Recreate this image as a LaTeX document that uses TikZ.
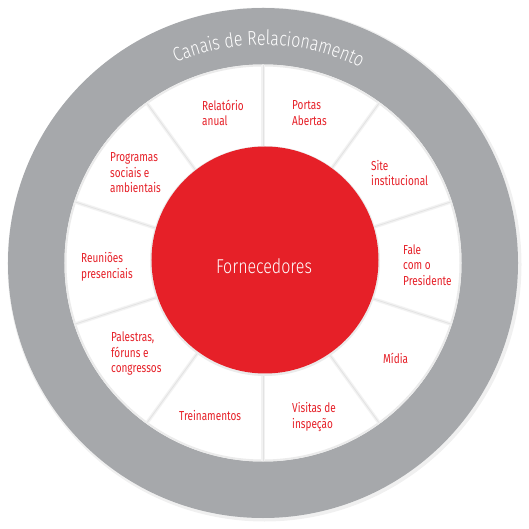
\documentclass[tikz,border=0pt]{standalone}
\usepackage{fontspec}
\setmainfont{Fira Sans Light}[FakeStretch=0.8]
\newfontfamily\lblfont{Fira Sans}[FakeStretch=0.77]
\usetikzlibrary{decorations.text}
\definecolor{ringgray}{RGB}{166,168,171}
\definecolor{fred}{RGB}{230,32,40}
\begin{document}
\begin{tikzpicture}[x=1pt,y=1pt,
  lbl/.style={text=fred, align=left, anchor=west, inner sep=0pt,
    font=\lblfont\fontsize{13}{15.5}\selectfont},
  sepsoft/.style={draw=black!5, line width=3.5pt},
  sepline/.style={draw=black!11, line width=0.8pt}]
\useasboundingbox (-263,-266) rectangle (266,263);
\fill[black!6] (1.5,-1.5) circle (257);
\fill[ringgray] (0,0) circle (255);
\fill[white] (0,0) circle (198.5);
\draw[black!8, line width=2pt] (0,0) circle (197.5);
\foreach \a in {90,54,18,-18,-54,-90,-126,-162,162,126}{
  \draw[sepsoft] (\a:110) -- (\a:198);
  \draw[sepline] (\a:110) -- (\a:198);
}
\fill[black!8] (2,2) circle (115);
\fill[fred] (2,3) circle (113.5);
\node[text=white, font=\fontsize{20}{24}\selectfont, inner sep=0pt] (forn) at (1,-3) {Fornecedores};
\path[decorate, decoration={text along path, text align=center,
  text={|\fontsize{20}{24}\selectfont\color{white}|Canais de Relacionamento}}]
  (148.5:218) arc[start angle=148.5, end angle=28.5, radius=218];
\node[lbl] (rel) at (-61,150) {Relatório\\anual};
\node[lbl] (port) at (29,150) {Portas\\Abertas};
\node[lbl] (site) at (108,90) {Site\\institucional};
\node[lbl] (fale) at (140,-2) {Fale\\com o\\Presidente};
\node[lbl] (midia) at (120,-95) {Mídia};
\node[lbl] (vis) at (29,-154) {Visitas de\\inspeção};
\node[lbl] (trei) at (-84,-153) {Treinamentos};
\node[lbl] (pal) at (-152,-91) {Palestras,\\fóruns e\\congressos};
\node[lbl] (reun) at (-182,-4) {Reuniões\\presenciais};
\node[lbl] (prog) at (-153,90) {Programas\\sociais e\\ambientais};
\end{tikzpicture}
\end{document}
